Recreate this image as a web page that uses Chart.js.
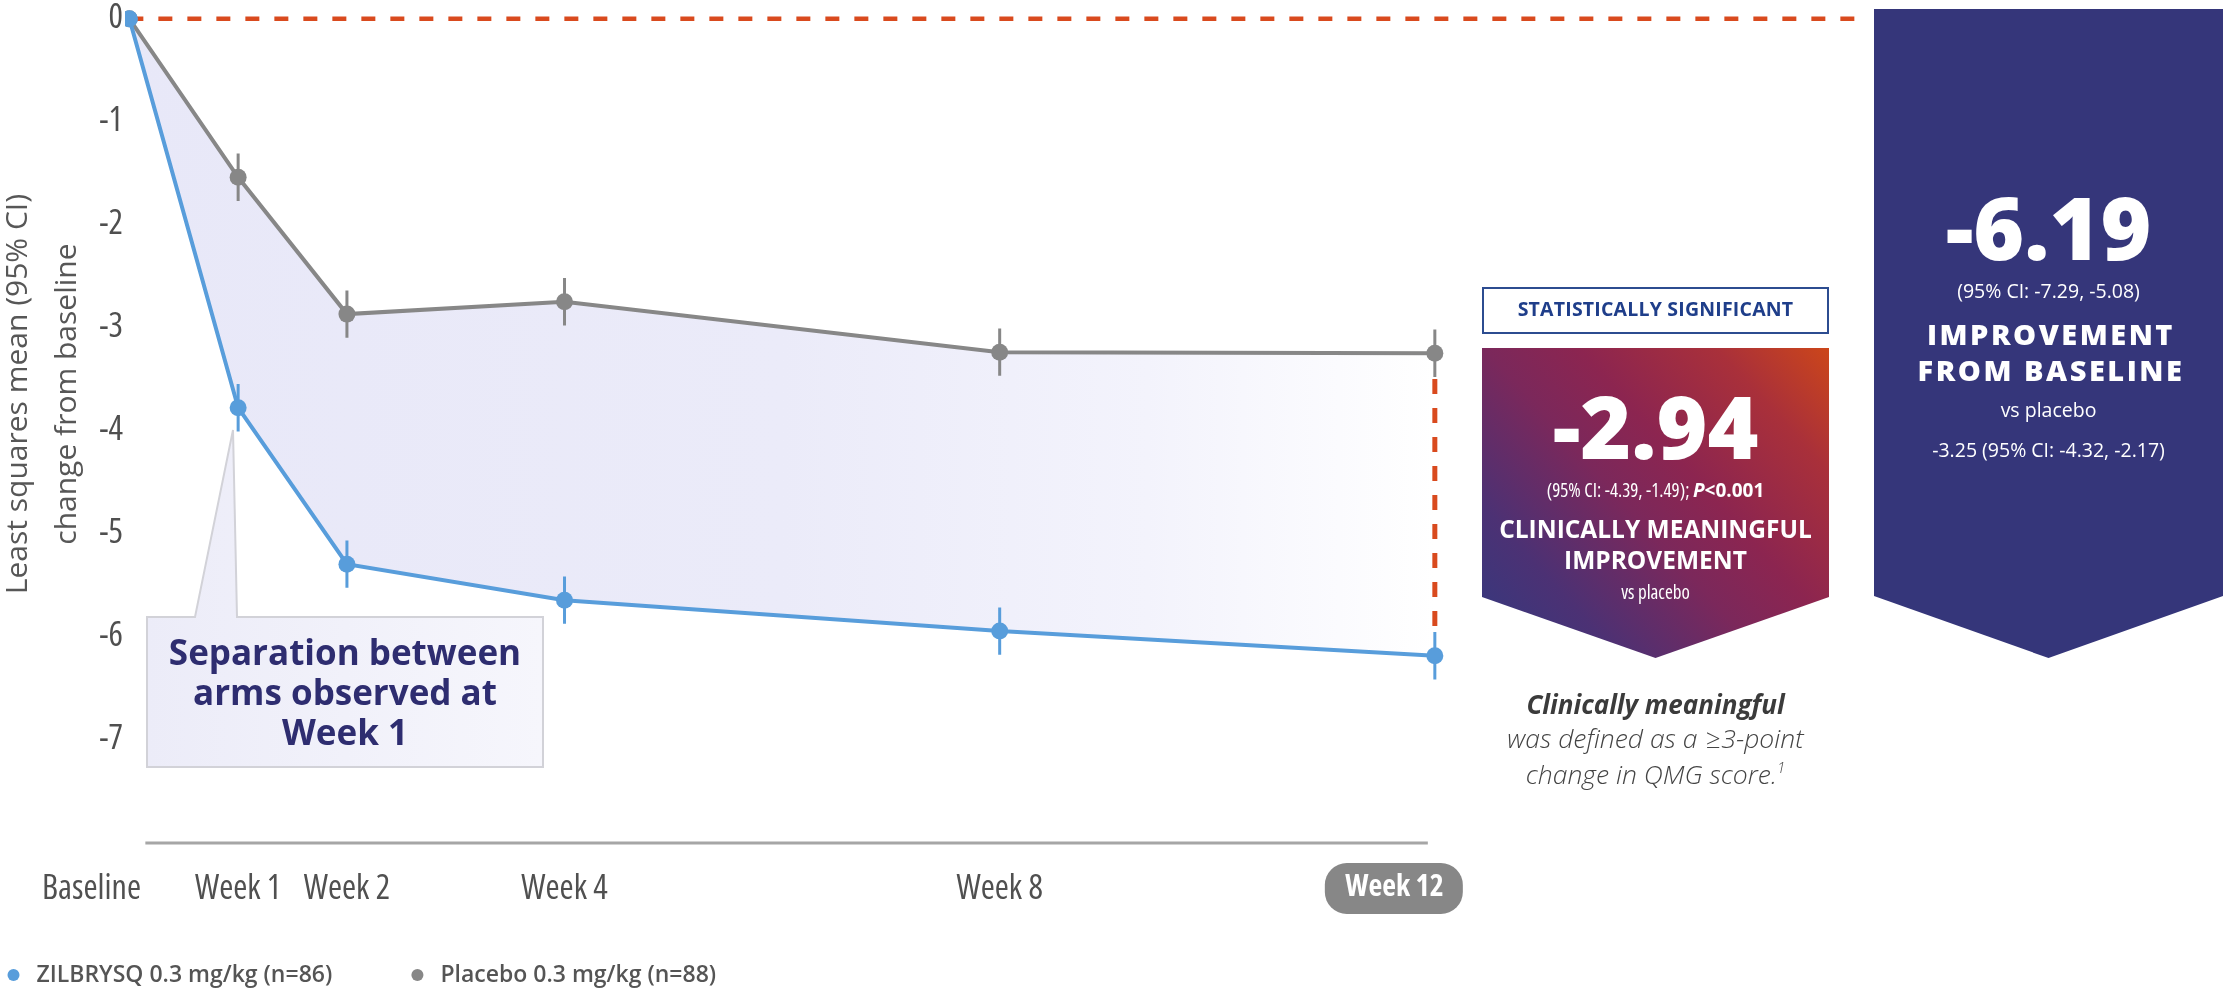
<!DOCTYPE html>
<html>
<head>
<meta charset="utf-8">
<title>QMG change from baseline</title>
<script src="https://cdn.jsdelivr.net/npm/chart.js@4.4.1/dist/chart.umd.min.js"></script>
<style>
  html, body { margin: 0; padding: 0; background: #fff; }
  #wrap { position: relative; width: 2223px; height: 990px; overflow: hidden; font-family: 'Open Sans', sans-serif; }
  #chart { position: absolute; left: 0; top: 0; }
  #callout { position: absolute; left: 0; top: 0; pointer-events: none; }
  .t { position: absolute; white-space: nowrap; line-height: 1; text-align: center; }
  .cond { font-family: var(--cond-family, 'Open Sans'), 'Open Sans', sans-serif; font-stretch: var(--cond-stretch, condensed); }
  .mid { left: 1482px; width: 347px; color: #fff; }
  .right { left: 1874px; width: 349px; color: #fff; }
  .big { font-weight: 800; font-size: 87px; }
  #sig { position: absolute; left: 1482px; top: 287px; width: 347px; height: 47px; box-sizing: border-box;
         border: 2px solid #2c4c90; text-align: center; line-height: 40px; font-weight: 700; font-size: 19.5px;
         color: #1f3e8a; letter-spacing: 0.2px; }
  #meaningful { position: absolute; left: 1482px; top: 348px; width: 347px; height: 310px;
         clip-path: polygon(0 0, 100% 0, 100% 249px, 50% 100%, 0 249px);
         background: linear-gradient(48deg, #313a80 0%, #4c3174 22%, #7b285b 45%, #8c2550 60%, #a9303a 82%, #cc461a 100%); }
  #fromBaseline { position: absolute; left: 1874px; top: 9px; width: 349px; height: 649px; background: #35367a;
         clip-path: polygon(0 0, 100% 0, 100% 587px, 50% 100%, 0 587px); }
  .note { left: 1482px; width: 347px; color: #444; font-style: italic; }
  #sep { left: 147px; width: 396px; top: 632px; line-height: 40px; font-weight: 700; font-size: 35px; color: #2e2d70; }
</style>
</head>
<body>
<div id="wrap">
  <canvas id="chart" width="2223" height="990"></canvas>

  <svg id="callout" width="2223" height="990">
    <defs>
      <linearGradient id="calloutFill" x1="0" x2="1" y1="0" y2="0">
        <stop offset="0" stop-color="#ececf8"/>
        <stop offset="1" stop-color="#f6f6fc"/>
      </linearGradient>
    </defs>
    <path d="M147 617 L195 617 L233 430 L237 617 L543 617 L543 767 L147 767 Z"
          fill="url(#calloutFill)" stroke="#d2d2d8" stroke-width="2"/>
  </svg>
  <div class="t" id="sep">Separation between<br>arms observed at<br>Week 1</div>

  <div id="sig">STATISTICALLY SIGNIFICANT</div>
  <div id="meaningful"></div>
  <div class="t mid big" style="top:382px">-2.94</div>
  <div class="t mid cond" style="top:481px;font-size:19px">(95% CI: -4.39, -1.49); <b style="font-stretch:normal"><i>P</i>&lt;0.001</b></div>
  <div class="t mid" style="top:517px;font-size:24.5px;font-weight:700">CLINICALLY MEANINGFUL</div>
  <div class="t mid" style="top:548px;font-size:24.5px;font-weight:700">IMPROVEMENT</div>
  <div class="t mid cond" style="top:583px;font-size:19px">vs placebo</div>

  <div class="t note" style="top:691px;font-size:26px;font-weight:700;color:#3b3b3b">Clinically meaningful</div>
  <div class="t note" style="top:725px;font-size:26.5px;font-weight:300">was defined as a ≥3-point</div>
  <div class="t note" style="top:760px;font-size:26.5px;font-weight:300">change in QMG score.<sup style="font-size:15px;vertical-align:11px">1</sup></div>

  <div id="fromBaseline"></div>
  <div class="t right big" style="top:183px">-6.19</div>
  <div class="t right" style="top:281px;font-size:19.5px">(95% CI: -7.29, -5.08)</div>
  <div class="t right" style="top:319px;font-size:29px;font-weight:800;letter-spacing:2.5px;padding-left:2.5px">IMPROVEMENT</div>
  <div class="t right" style="top:355px;font-size:29px;font-weight:800;letter-spacing:2.5px;padding-left:2.5px">FROM BASELINE</div>
  <div class="t right" style="top:400px;font-size:19.5px">vs placebo</div>
  <div class="t right" style="top:440px;font-size:19.5px">-3.25 (95% CI: -4.32, -2.17)</div>
</div>

<script>
// values
const weeks = [0, 1, 2, 4, 8, 12];
const weekLabels = ['Baseline', 'Week 1', 'Week 2', 'Week 4', 'Week 8', 'Week 12'];
const zilbrysq = [0, -3.78, -5.30, -5.65, -5.95, -6.19];
const zilbrysqCI = [0, 0.23, 0.23, 0.23, 0.23, 0.23];
const placebo = [0, -1.54, -2.87, -2.75, -3.24, -3.25];
const placeboCI = [0, 0.23, 0.23, 0.23, 0.23, 0.23];
const yTicks = [0, -1, -2, -3, -4, -5, -6, -7];
const seriesNames = ['ZILBRYSQ 0.3 mg/kg (n=86)', 'Placebo 0.3 mg/kg (n=88)'];
const zeroLineEnd = 15.9;

const BLUE = '#589ddb';
const GREY = '#878787';
const RED = '#d94a1e';

// pick a condensed face that actually exists here
const probe = document.createElement('canvas').getContext('2d');
function measure(font, text) { probe.font = font; return probe.measureText(text).width; }
const SAMPLE = 'Baseline Week 12 (95% CI)';
let condFamily = "'Open Sans'";
let condStretch = 'condensed';
if (measure("400 condensed 40px 'Open Sans'", SAMPLE) > 0.93 * measure("400 40px 'Open Sans'", SAMPLE)) {
  condStretch = 'normal';
  for (const fam of ["'Open Sans Condensed'", "'DejaVu Sans Condensed'", "'Liberation Sans Narrow'"]) {
    if (measure('40px ' + fam + ', monospace', SAMPLE) !== measure('40px monospace', SAMPLE)) { condFamily = fam; break; }
  }
}
document.documentElement.style.setProperty('--cond-family', condFamily);
document.documentElement.style.setProperty('--cond-stretch', condStretch);

const condFam = condFamily + ", 'Open Sans', sans-serif";
const tickFont = {family: condFam, size: 34, weight: '400 ' + condStretch};
const yTickFont = {family: condFam, size: 34, weight: '400 ' + condStretch};
const pillFont = {family: condFam, size: 30, weight: '700 ' + condStretch};
const fontStr = f => f.weight + ' ' + f.size + 'px ' + f.family;

function padEnd(text, px, font) {
  const n = Math.max(0, Math.round(px / measure(fontStr(font), '\u00a0')));
  return text + '\u00a0'.repeat(n);
}
function padStart(text, px, font) {
  const n = Math.max(0, Math.round(px / measure(fontStr(font), '\u00a0')));
  return '\u00a0'.repeat(n) + text;
}

// labels that sit off-centre from their tick in the original
const shownLabels = weekLabels.slice();
shownLabels[0] = padEnd(weekLabels[0], 75, tickFont);
shownLabels[5] = padEnd(weekLabels[5], 82, pillFont);

const titleFont = {family: "'Open Sans', sans-serif", size: 30, weight: '400', lineHeight: 1.633};
const yTitle = ['Least squares mean (95% CI)', 'change from baseline'].map(s => padStart(s, 64, titleFont));

const legendFont = {family: "'Open Sans', sans-serif", size: 23, weight: '600'};

const pts = ys => weeks.map((w, i) => ({x: w, y: ys[i]}));
const ciBars = (ys, es) => weeks.map((w, i) => ({x: w, y: [ys[i] - es[i], ys[i] + es[i]]})).filter((d, i) => es[i] > 0);
const last = weeks.length - 1;

function bandFill(context) {
  const chart = context.chart;
  if (!chart.chartArea) return '#ebebf8';
  const xs = chart.scales.x;
  const g = chart.ctx.createLinearGradient(xs.getPixelForValue(weeks[0]), 0, xs.getPixelForValue(weeks[last]), 0);
  g.addColorStop(0, '#e8e8f8');
  g.addColorStop(0.5, '#ebebf9');
  g.addColorStop(0.78, '#f3f3fc');
  g.addColorStop(1, '#ffffff');
  return g;
}

const axisAndPill = {
  id: 'axisAndPill',
  beforeDraw(chart) {
    const {ctx, chartArea} = chart;
    const xs = chart.scales.x;
    const cx = xs.getPixelForValue(weeks[last]) - 41;
    const cy = chartArea.bottom + 46.5;
    ctx.save();
    ctx.fillStyle = GREY;
    ctx.beginPath();
    ctx.roundRect(cx - 69, cy - 25.5, 138, 51, 22);
    ctx.fill();
    ctx.strokeStyle = '#a6a6a6';
    ctx.lineWidth = 3;
    ctx.beginPath();
    ctx.moveTo(xs.getPixelForValue(weeks[0]) + 16, chartArea.bottom + 1);
    ctx.lineTo(xs.getPixelForValue(weeks[last]) - 7, chartArea.bottom + 1);
    ctx.stroke();
    ctx.restore();
  }
};

new Chart(document.getElementById('chart'), {
  type: 'line',
  data: {
    datasets: [
      {
        label: seriesNames[0], data: pts(zilbrysq), order: 0,
        borderColor: BLUE, borderWidth: 4, tension: 0,
        pointRadius: 8.5, pointHoverRadius: 8.5, pointBackgroundColor: BLUE, pointBorderWidth: 0,
        fill: '+1', backgroundColor: bandFill
      },
      {
        label: seriesNames[1], data: pts(placebo), order: 1,
        borderColor: GREY, borderWidth: 4, tension: 0,
        pointRadius: 8.5, pointHoverRadius: 8.5, pointBackgroundColor: GREY, pointBorderWidth: 0,
        fill: false
      },
      {
        type: 'bar', label: 'zilbrysq CI', data: ciBars(zilbrysq, zilbrysqCI), order: 3,
        backgroundColor: BLUE, borderWidth: 0, grouped: false, maxBarThickness: 3
      },
      {
        type: 'bar', label: 'placebo CI', data: ciBars(placebo, placeboCI), order: 4,
        backgroundColor: GREY, borderWidth: 0, grouped: false, maxBarThickness: 3
      },
      {
        label: 'no change', data: [{x: weeks[0], y: 0}, {x: zeroLineEnd, y: 0}], order: 6,
        borderColor: RED, borderWidth: 4.5, borderDash: [14, 15], pointRadius: 0, fill: false
      },
      {
        label: 'difference at week 12', order: 5,
        data: [{x: weeks[last], y: placebo[last] - placeboCI[last] - 0.02},
               {x: weeks[last], y: zilbrysq[last] + zilbrysqCI[last] + 0.04}],
        borderColor: RED, borderWidth: 5, borderDash: [15, 14], pointRadius: 0, fill: false
      }
    ]
  },
  options: {
    responsive: false,
    animation: false,
    layout: {padding: {top: 4, right: 353, bottom: -6.5, left: 0}},
    scales: {
      x: {
        type: 'linear', min: -0.04, max: 16, offset: false,
        grid: {display: false, drawTicks: false},
        border: {display: false},
        afterFit: s => { s.height = 119.5; s.paddingLeft = 0; s.paddingRight = 0; },
        afterBuildTicks: s => { s.ticks = weeks.map(v => ({value: v})); },
        ticks: {
          autoSkip: false, maxRotation: 0, minRotation: 0, padding: 27,
          callback: v => shownLabels[weeks.indexOf(v)],
          font: c => (c.tick && c.tick.value === weeks[last]) ? pillFont : tickFont,
          color: c => (c.tick && c.tick.value === weeks[last]) ? '#ffffff' : '#505050'
        }
      },
      y: {
        min: -8, max: 0.1,
        grid: {display: false, drawTicks: false},
        border: {display: false},
        afterFit: s => { s.width = 125; s.paddingTop = 0; s.paddingBottom = 0; },
        afterBuildTicks: s => { s.ticks = yTicks.map(v => ({value: v})); },
        ticks: {padding: 2, font: yTickFont, color: '#4f4f4f', callback: v => String(v)},
        title: {display: true, text: yTitle, font: titleFont, color: '#575757', padding: {top: -6, bottom: 0}}
      }
    },
    plugins: {
      filler: {drawTime: 'beforeDatasetsDraw'},
      tooltip: {enabled: false},
      legend: {
        position: 'bottom', align: 'start',
        labels: {
          usePointStyle: true, pointStyle: 'circle', boxWidth: 23, boxHeight: 8.5, padding: 2,
          font: legendFont, color: '#555555',
          generateLabels(chart) {
            const items = Chart.defaults.plugins.legend.labels.generateLabels(chart)
              .filter(it => it.datasetIndex < 2);
            const f = fontStr(legendFont);
            items[0].text = padEnd(items[0].text, 367 - measure(f, items[0].text), legendFont);
            return items;
          }
        }
      }
    }
  },
  plugins: [axisAndPill]
});
</script>
</body>
</html>
